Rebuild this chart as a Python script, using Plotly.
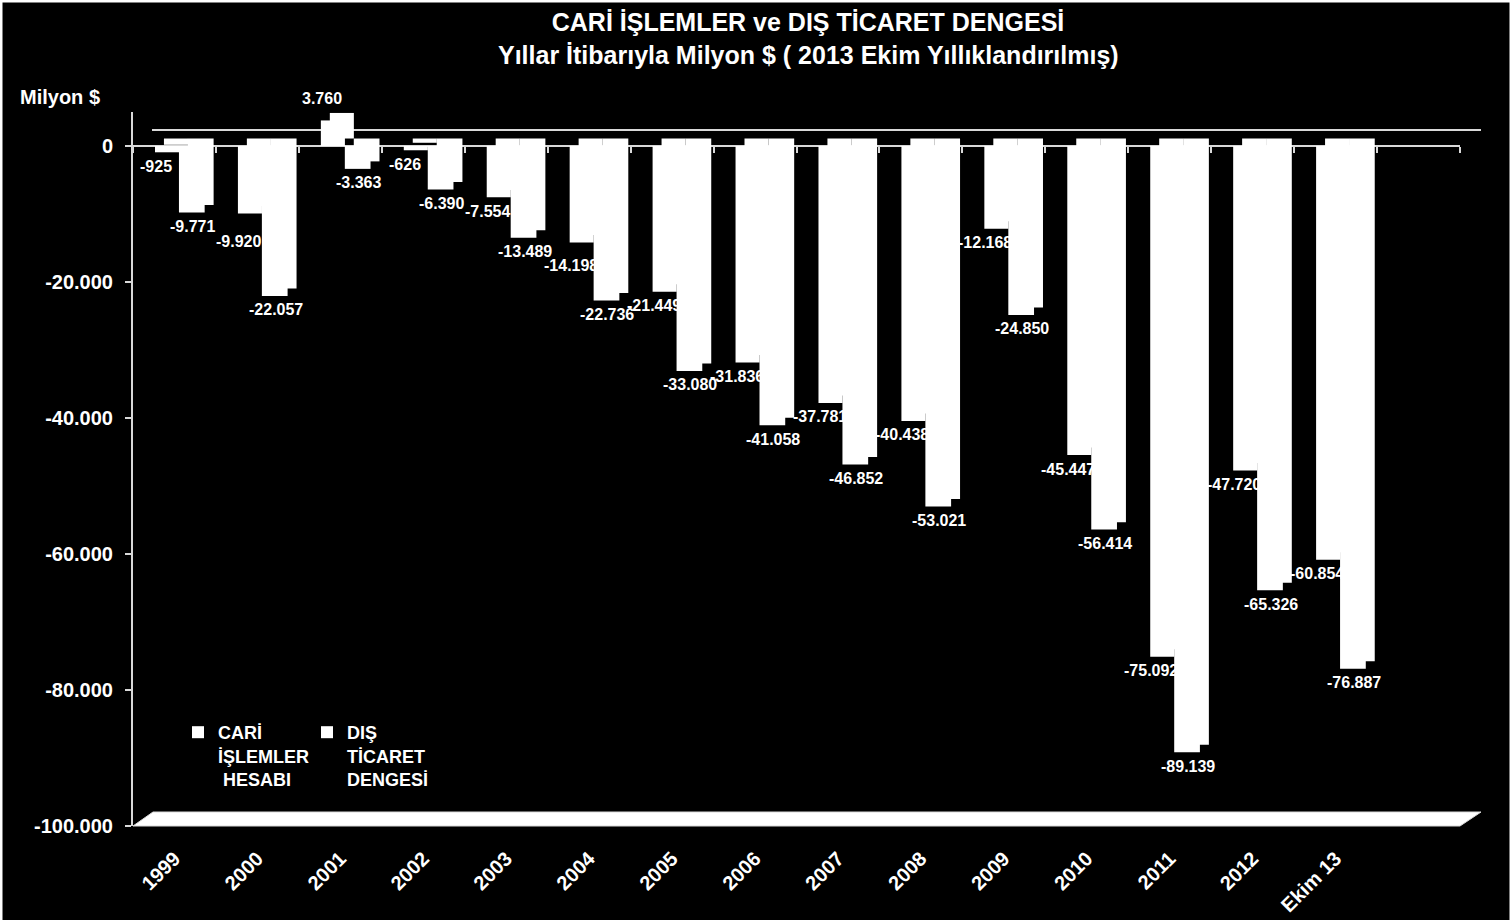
import plotly.graph_objects as go

# ---------------- data ----------------
CATEGORIES = ["1999", "2000", "2001", "2002", "2003", "2004", "2005", "2006",
              "2007", "2008", "2009", "2010", "2011", "2012", "Ekim 13"]
CARI_ISLEMLER = [-925, -9920, 3760, -626, -7554, -14198, -21449, -31836,
                 -37781, -40438, -12168, -45447, -75092, -47720, -60854]
DIS_TICARET = [-9771, -22057, -3363, -6390, -13489, -22736, -33080, -41058,
               -46852, -53021, -24850, -56414, -89139, -65326, -76887]
SERIES_NAMES = ["CARİ<br>İŞLEMLER<br> HESABI", "DIŞ<br>TİCARET<br>DENGESİ"]
Y_TICK_VALUES = [0, -20000, -40000, -60000, -80000, -100000]
Y_TICK_LABELS = ["0", "-20.000", "-40.000", "-60.000", "-80.000", "-100.000"]
Y_RANGE = [-100000, 5000]
N_SLOTS = 16  # category slots on the axis (last one empty)

TITLE_1 = "CARİ İŞLEMLER ve DIŞ TİCARET DENGESİ"
TITLE_2 = "Yıllar İtibarıyla Milyon $ ( 2013 Ekim Yıllıklandırılmış)"
UNIT_LABEL = "Milyon $"

# ---------------- layout geometry / style ----------------
W, H = 1512, 920
PL, PR, PT, PB = 133, 1460, 112, 826
FONT = "Liberation Sans, Arial, sans-serif"
LINE_C = "#d9d9d9"
SLOT_PX = (PR - PL) / N_SLOTS


def px(xpix):
    return (xpix - PL) / (PR - PL)


def py(ypix):
    return (PB - ypix) / (PB - PT)


def fmt(v):
    return f"{v:,}".replace(",", ".")


zero_frac = (0 - Y_RANGE[0]) / (Y_RANGE[1] - Y_RANGE[0])

# bar geometry (in category units)
BAR_W = [0.29, 0.31]
BAR_OFF = [-0.235, 0.054]
DEPTH_X = 0.108
DEPTH_BASE = 1100
LABEL_DX = [-11, 1]                        # label offset from bar centre, px
LABEL_EXTRA_DY = {(0, 1): -14, (0, 5): -9}  # individually moved labels

fig = go.Figure()
annotations = []

for i, vals in enumerate([CARI_ISLEMLER, DIS_TICARET]):
    # 3D depth face (same values, shifted back)
    fig.add_trace(go.Bar(
        x=CATEGORIES, y=vals, base=DEPTH_BASE,
        width=BAR_W[i], offset=BAR_OFF[i] + DEPTH_X,
        marker=dict(color="white", line=dict(width=0)),
        showlegend=False, hoverinfo="skip",
    ))
    # front face
    fig.add_trace(go.Bar(
        x=CATEGORIES, y=vals, name=SERIES_NAMES[i],
        width=BAR_W[i], offset=BAR_OFF[i],
        marker=dict(color="white", line=dict(width=0)),
    ))
    # data labels (x given as category index)
    xshift = (BAR_OFF[i] + BAR_W[i] / 2) * SLOT_PX + LABEL_DX[i]
    for k, v in enumerate(vals):
        annotations.append(dict(
            x=k, y=v, xref="x", yref="y", text=fmt(v), showarrow=False,
            xanchor="center", yanchor="middle",
            xshift=xshift,
            yshift=(22 if v > 0 else -14) + LABEL_EXTRA_DY.get((i, k), 0),
            font=dict(family=FONT, size=16, color="white", weight="bold"),
        ))

# invisible helper trace for the tick axis at zero
fig.add_trace(go.Scatter(
    x=[0], y=[0], xaxis="x2", yaxis="y", mode="markers",
    marker=dict(opacity=0), showlegend=False, hoverinfo="skip",
))

shapes = [
    # back wall zero line (3D)
    dict(type="line", xref="paper", x0=px(152), x1=px(1481),
         yref="y", ysizemode="pixel", yanchor=0, y0=16, y1=16,
         line=dict(color=LINE_C, width=2), layer="below"),
    # floor
    dict(type="path", xref="paper", yref="paper",
         path=(f"M {px(133)},{py(826)} L {px(153)},{py(812)} "
               f"L {px(1481)},{py(812)} L {px(1460)},{py(826)} Z"),
         fillcolor="white", line=dict(color=LINE_C, width=1), layer="above"),
    # page border (top, left, right)
    dict(type="path", xref="paper", yref="paper",
         path=(f"M {px(1)},{py(920)} L {px(1)},{py(1)} "
               f"L {px(1511)},{py(1)} L {px(1511)},{py(920)}"),
         line=dict(color="white", width=3)),
]

annotations += [
    dict(text=TITLE_2, xref="paper", yref="paper", x=px(808), y=py(55),
         xanchor="center", yanchor="middle", showarrow=False,
         font=dict(family=FONT, size=25, color="white", weight="bold")),
    dict(text=UNIT_LABEL, xref="paper", yref="paper", x=px(18), y=py(97),
         xanchor="left", yanchor="middle", showarrow=False,
         font=dict(family=FONT, size=20, color="white", weight="bold")),
]

fig.update_layout(
    width=W, height=H,
    margin=dict(l=PL, r=W - PR, t=PT, b=H - PB, autoexpand=False),
    paper_bgcolor="black", plot_bgcolor="black",
    barmode="overlay",
    separators=",.",
    title=dict(text=TITLE_1, x=808 / W, xanchor="center",
               y=1 - 22 / H, yanchor="middle",
               font=dict(family=FONT, size=25, color="white", weight="bold")),
    xaxis=dict(
        type="category", range=[-0.5, N_SLOTS - 0.5], automargin=False,
        showline=False, showgrid=False, zeroline=False, ticks="",
        tickangle=-45, ticklabelstandoff=16,
        tickfont=dict(family=FONT, size=20, color="white", weight="bold"),
    ),
    xaxis2=dict(
        overlaying="x", anchor="free", position=zero_frac, side="bottom",
        range=[-0.5, N_SLOTS - 0.5], automargin=False,
        tickmode="array", tickvals=[k - 0.5 for k in range(N_SLOTS + 1)],
        ticks="outside", ticklen=6, tickwidth=2, tickcolor=LINE_C,
        showticklabels=False, showline=False, showgrid=False, zeroline=False,
    ),
    yaxis=dict(
        range=Y_RANGE, tickvals=Y_TICK_VALUES, ticktext=Y_TICK_LABELS,
        automargin=False,
        showline=True, linecolor=LINE_C, linewidth=2,
        ticks="outside", ticklen=6, tickwidth=2, tickcolor=LINE_C,
        ticklabelstandoff=8,
        showgrid=False, zeroline=True, zerolinecolor=LINE_C, zerolinewidth=2,
        tickfont=dict(family=FONT, size=20, color="white", weight="bold"),
    ),
    legend=dict(
        orientation="h", x=px(178), y=py(714), xanchor="left", yanchor="top",
        bgcolor="rgba(0,0,0,0)", valign="top", itemwidth=30,
        entrywidth=84, entrywidthmode="pixels",
        font=dict(family=FONT, size=18, color="white", weight="bold"),
        traceorder="normal",
    ),
    shapes=shapes,
    annotations=annotations,
)

fig.write_html("out.html",
               config={"displayModeBar": False},
               post_script="document.body.style.margin='0';")
